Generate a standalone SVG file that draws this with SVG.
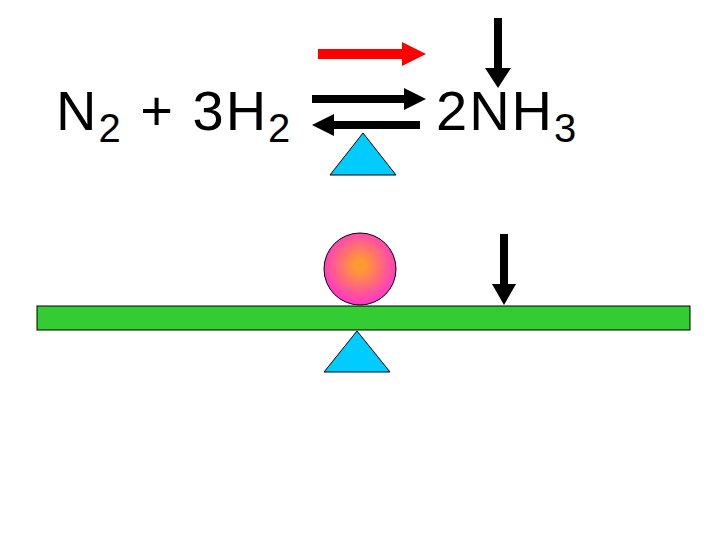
<svg xmlns="http://www.w3.org/2000/svg" width="720" height="540" viewBox="0 0 720 540">
<defs>
<style>
.t{font-family:"Liberation Sans",Arial,sans-serif;font-size:56px;fill:#000;letter-spacing:2px}
.s{font-size:40px}
.tri{fill:#00ccff;stroke:#000;stroke-width:1}
</style>
<radialGradient id="g" cx="50%" cy="45%" r="55%">
<stop offset="0" stop-color="#ff9933"/>
<stop offset="0.15" stop-color="#ff9933"/>
<stop offset="1" stop-color="#ff33cc"/>
</radialGradient>
</defs>
<rect width="720" height="540" fill="#fff"/>
<g id="reactants"><text class="t" x="56" y="130">N<tspan class="s" dy="12">2</tspan><tspan dy="-12"> + 3H</tspan><tspan class="s" dy="12">2</tspan></text></g>
<g id="product"><text class="t" x="436" y="130">2NH<tspan class="s" dy="12">3</tspan></text></g>
<g id="connectors">
<polygon points="318,49 402,49 402,42 426,54 402,66 402,59 318,59" fill="#ff0000"/>
<polygon points="312,95 404,95 404,88 426,99 404,110 404,103 312,103" fill="#000"/>
<polygon points="420,121 334,121 334,114 312,125 334,136 334,129 420,129" fill="#000"/>
<polygon points="494,18 502,18 502,68 511,68 498,88 485,68 494,68" fill="#000"/>
<polygon points="500,234 508,234 508,284 516,284 504,305 492,284 500,284" fill="#000"/>
</g>
<g id="fulcrum-top"><polygon class="tri" points="363,133 396,175 330,175"/></g>
<g id="beam"><rect x="37" y="306" width="653" height="24" fill="#33cc33" stroke="#000" stroke-width="1"/></g>
<g id="ball"><circle cx="360" cy="269" r="36" fill="url(#g)" stroke="#000" stroke-width="1"/></g>
<g id="fulcrum"><polygon class="tri" points="357,331 390,372 324,372"/></g>
</svg>
